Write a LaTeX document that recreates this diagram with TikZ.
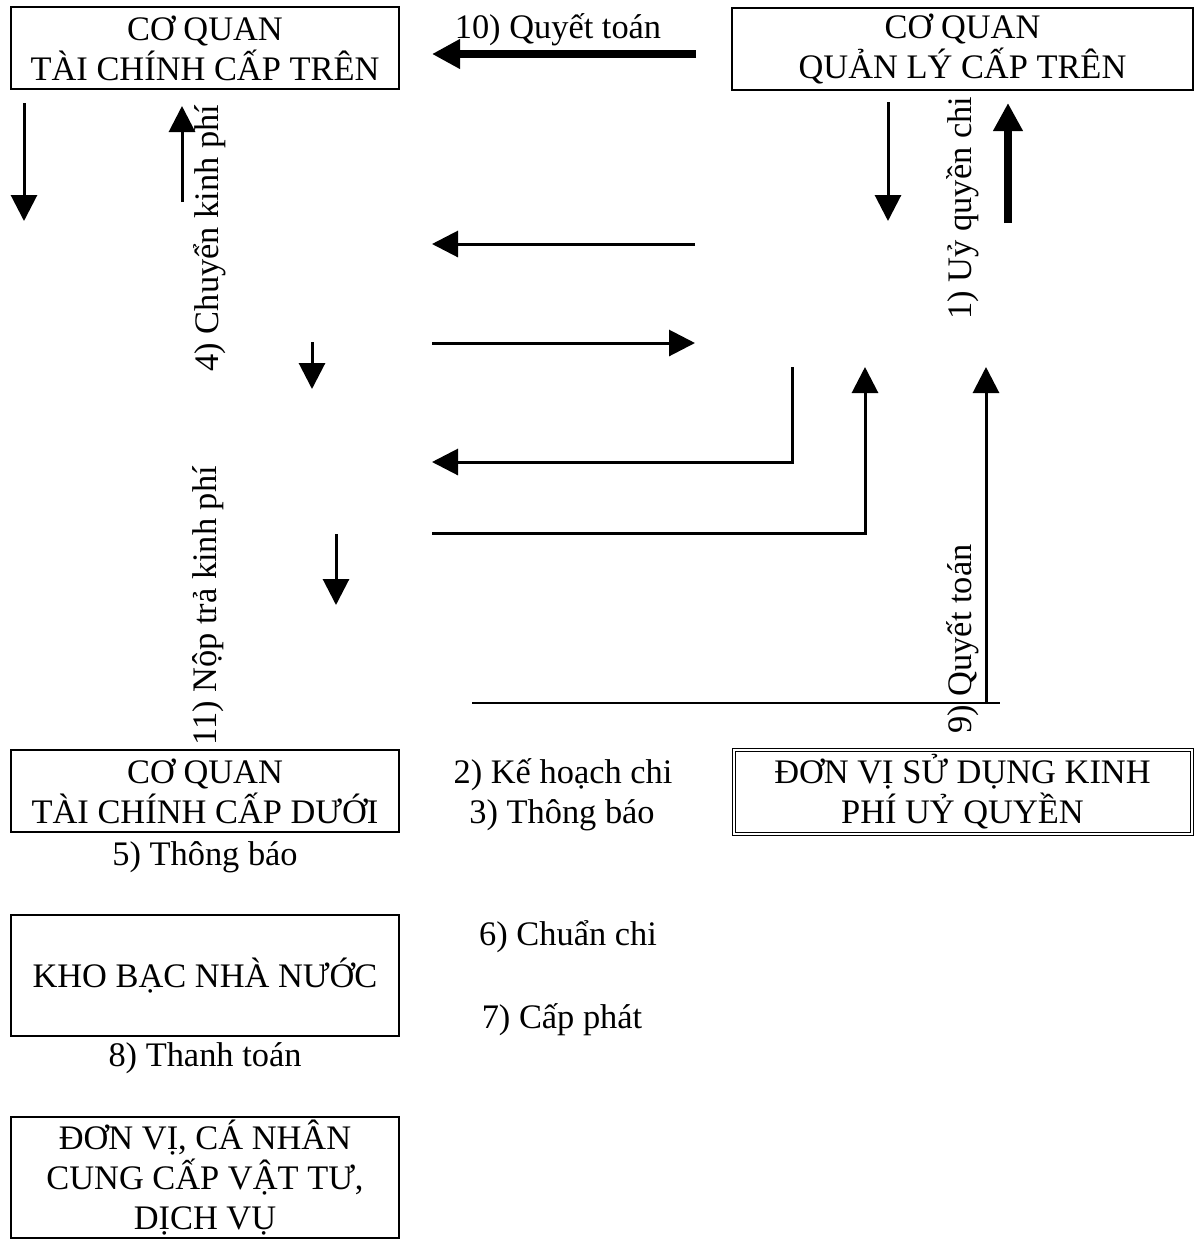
\documentclass[tikz,border=0pt]{standalone}
\usepackage{fontspec}
\setmainfont{Liberation Serif}
\usetikzlibrary{arrows.meta, positioning}

\tikzset{
    box/.style={draw, line width=1pt, minimum width=194pt, minimum height=41pt,
                align=center, inner sep=0pt},
    dbox/.style={draw, double, line width=0.5pt, double distance=1pt,
                 minimum width=229pt, minimum height=42pt, align=center, inner sep=0pt},
    lbl/.style={inner sep=0pt},
    arr/.style={line width=1.5pt, -{Triangle[length=13pt, width=13pt]}},
    bigarr/.style={line width=3.75pt, -{Triangle[length=14pt, width=14pt]}},
    ln/.style={line width=1.2pt}
}

\begin{document}
\begin{tikzpicture}[x=0.5pt, y=-0.5pt, font=\fontsize{17.2}{20}\selectfont]
    \useasboundingbox (0,0) rectangle (1194,1239);

    % boxes
    \node[box] (tc_tren) at (205,48) {CƠ QUAN\\TÀI CHÍNH CẤP TRÊN};
    \node[box, minimum width=230.5pt] (ql_tren) at (962.5,48.5) {CƠ QUAN\\QUẢN LÝ CẤP TRÊN};
    \node[box] (tc_duoi) at (205,791) {CƠ QUAN\\TÀI CHÍNH CẤP DƯỚI};
    \node[dbox] (dv_uq) at (962.5,792) {ĐƠN VỊ SỬ DỤNG KINH\\PHÍ UỶ QUYỀN};
    \node[box, minimum height=60.5pt] (kbnn) at (205,975.5) {KHO BẠC NHÀ NƯỚC};
    \node[box, minimum height=60.5pt] (dv_cc) at (205,1177.5) {ĐƠN VỊ, CÁ NHÂN\\CUNG CẤP VẬT TƯ,\\DỊCH VỤ};

    % labels
    \node[lbl] (l_10) at (558,30) {10) Quyết toán};
    \node[lbl] (l_2) at (563,775) {2) Kế hoạch chi};
    \node[lbl] (l_3) at (562,815) {3) Thông báo};
    \node[lbl] (l_5) at (205,857) {5) Thông báo};
    \node[lbl] (l_6) at (568,937) {6) Chuẩn chi};
    \node[lbl] (l_7) at (562,1020) {7) Cấp phát};
    \node[lbl] (l_8) at (205,1058) {8) Thanh toán};
    \node[lbl, rotate=90] (l_4) at (210,238) {4) Chuyển kinh phí};
    \node[lbl, rotate=90] (l_11) at (208,606) {11) Nộp trả kinh phí};
    \node[lbl, rotate=90] (l_1) at (963,208) {1) Uỷ quyền chi};
    \node[lbl, rotate=90] (l_9) at (963,639) {9) Quyết toán};

    % arrow ends
    \coordinate (a_s) at (24,103);   \coordinate (a_e) at (24,221);
    \coordinate (b_s) at (182,202);  \coordinate (b_e) at (182,106);
    \coordinate (c_s) at (696,54);   \coordinate (c_e) at (432,54);
    \coordinate (d_s) at (888,102);  \coordinate (d_e) at (888,221);
    \coordinate (e_s) at (1008,223); \coordinate (e_e) at (1008,103);
    \coordinate (f_s) at (695,244);  \coordinate (f_e) at (432,244);
    \coordinate (g_s) at (432,343);  \coordinate (g_e) at (695,343);
    \coordinate (h_s) at (312,342);  \coordinate (h_e) at (312,389);
    \coordinate (i_s) at (336,534);  \coordinate (i_e) at (336,605);
    \coordinate (j_s) at (792,367);  \coordinate (j_e) at (432,462);
    \coordinate (k_s) at (432,533);  \coordinate (k_e) at (865,367);
    \coordinate (m_s) at (472,703);  \coordinate (m_e) at (1000,703);
    \coordinate (n_s) at (986,703);  \coordinate (n_e) at (986,367);

    \draw[arr] (a_s) -- (a_e);
    \draw[arr] (b_s) -- (b_e);
    \draw[bigarr] (c_s) -- (c_e);
    \draw[arr] (d_s) -- (d_e);
    \draw[bigarr] (e_s) -- (e_e);
    \draw[arr] (f_s) -- (f_e);
    \draw[arr] (g_s) -- (g_e);
    \draw[arr] (h_s) -- (h_e);
    \draw[arr] (i_s) -- (i_e);
    \draw[arr] (j_s) |- (j_e);
    \draw[arr] (k_s) -| (k_e);
    \draw[ln] (m_s) -- (m_e);
    \draw[arr] (n_s) -- (n_e);
\end{tikzpicture}
\end{document}
